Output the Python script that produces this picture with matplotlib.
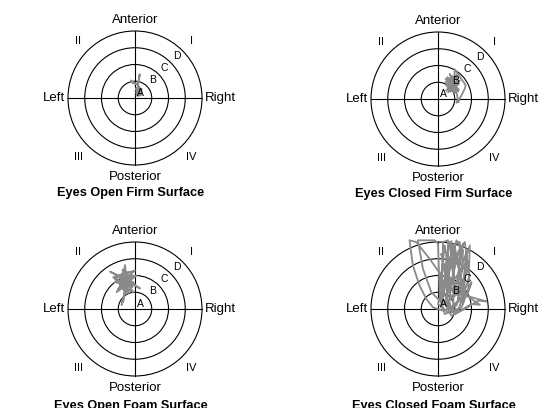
import matplotlib.pyplot as plt
from matplotlib.patches import Circle

plt.rcParams['font.family'] = ['Liberation Sans', 'DejaVu Sans']

# panel titles and centres (pixels from top-left of the 560x408 image)
titles = ['Eyes Open Firm Surface', 'Eyes Closed Firm Surface',
          'Eyes Open Foam Surface', 'Eyes Closed Foam Surface']
centres = [(135, 98), (438, 99), (135, 309), (438, 309)]
ring_radii = [1, 2, 3, 4]
ring_labels = ['A', 'B', 'C', 'D']
quadrants = ['I', 'II', 'III', 'IV']

# sway traces, in ring units (x = right, y = anterior)
eo_firm_x = [0.10, 0.30, 0.15, 0.35, 0.08, 0.38, 0.12, 0.32, 0.06, 0.36, 0.20, 0.40,
             0.10, 0.28, 0.05, 0.33, 0.22, 0.18, 0.25, 0.28, 0.24, 0.20, 0.05, -0.15,
             -0.25, -0.10, 0.10, 0.22, 0.18, 0.30, 0.12, 0.38, 0.08, 0.35, 0.15, 0.30,
             0.10, 0.25]
eo_firm_y = [0.15, 0.55, 0.20, 0.45, 0.30, 0.25, 0.60, 0.18, 0.50, 0.35, 0.12, 0.50,
             0.40, 0.22, 0.58, 0.30, 0.62, 0.85, 1.20, 1.42, 1.10, 0.88, 0.84, 0.90,
             1.05, 0.95, 0.82, 0.70, 0.50, 0.40, 0.28, 0.55, 0.35, 0.15, 0.45, 0.60,
             0.25, 0.40]

ec_firm_x = [0.50, 1.10, 0.60, 1.25, 0.45, 1.20, 0.70, 1.00, 0.50, 1.30, 0.80, 0.45,
             1.15, 0.65, 1.25, 0.55, 0.95, 1.00, 1.51, 1.65, 1.61, 1.31, 1.21, 1.10,
             1.15, 1.22, 1.12, 0.90, 0.60, 1.20, 0.75, 0.50, 1.05, 0.85]
ec_firm_y = [0.50, 1.40, 0.40, 0.90, 1.20, 0.45, 1.50, 0.35, 0.80, 1.10, 0.60, 1.00,
             1.45, 0.70, 0.55, 1.30, 0.90, 1.77, 1.03, 0.84, 0.64, 0.04, -0.16, -0.22,
             -0.10, -0.20, 0.34, 0.80, 1.10, 1.25, 0.45, 0.95, 0.65, 1.35]

eo_foam_x = [-0.70, -0.50, -0.80, -0.60, -0.20, -1.00, 0.10, -1.30, -0.40, -0.60,
             -0.80, -0.10, -1.49, -0.70, 0.30, -1.00, -0.30, -0.90, 0.00, -1.19,
             -0.50, -0.20, -1.10, -0.40, -0.80, -0.10, -0.90, -0.30, -1.20, 0.05,
             -0.60, -0.95, -0.45, -0.75, -0.15, -1.05, -0.55, -0.25, -0.85]
eo_foam_y = [0.44, 1.50, 0.24, 1.00, 2.10, 1.20, 2.00, 1.90, 0.95, 2.63,
             1.30, 1.60, 2.23, 1.80, 1.23, 2.00, 1.10, 1.60, 2.30, 1.93,
             1.20, 1.90, 1.00, 2.20, 2.10, 1.00, 1.40, 1.70, 1.60, 1.40,
             2.00, 1.10, 1.55, 2.35, 1.30, 1.75, 0.90, 2.00, 1.50]

ec_foam_x = [0.2, 0.3, 0.6, 0.5, 0.9, 1.0, 1.3, 1.2, 0.7, 0.6, 0.8, 1.0, 1.5, 1.7,
             1.9, 1.8, 2.0, 1.4, 0.4, 0.1, 0.0, -0.2, -1.2, -0.9, -0.4, 0.2, 0.9,
             1.1, 1.5, 1.3, 2.9, 2.4, 1.6, 0.8, 0.3, 0.5, 0.7, 0.9, 1.2, 1.6, 1.8,
             1.1, 0.3, -0.3, -0.7, -1.1, -1.5, -1.7, -1.3, -0.5, 0.2, 0.4, 0.6, 1.0,
             1.4, 1.7, 2.5, 2.0, 1.0, 0.5, 0.8, 1.2, 1.5, 1.1, 0.4, 0.2, 0.6, 1.3,
             1.7, 1.4, 0.8, 0.1, 0.3, 0.9, 1.6, 1.9, 1.2, 0.6, 0.0, 0.4, 1.0, 0.7,
             1.5, 0.9, 0.5, 1.3, 0.2]
ec_foam_y = [0.1, 4.0, 4.1, 0.3, -0.2, 3.9, 4.0, 0.5, 0.0, 3.6, 4.05, 1.2, 0.3, 3.2,
             3.8, 1.0, 1.6, 0.1, -0.3, 0.8, 3.9, 4.1, 4.1, 2.4, 1.0, 0.4, 3.3,
             4.1, 3.5, 0.9, 0.45, 0.5, 0.0, -0.4, 0.6, 3.0, 4.0, 2.0, 3.4, 4.0, 2.5,
             0.2, -0.1, 0.1, 0.6, 1.4, 2.6, 4.1, 4.0, 3.0, 2.0, 3.8, 2.5, 3.7,
             1.8, 0.8, 0.25, 0.3, -0.3, 0.4, 3.5, 2.6, 3.9, 1.5, 2.2, 3.3, 1.3, 2.2,
             3.4, 0.6, 0.1, 1.4, 2.8, 1.0, 2.7, 2.0, -0.1, -0.2, 0.3, 1.8, 2.9, 0.7,
             1.3, 3.8, 2.0, 1.0, 0.2]

traces = [(eo_firm_x, eo_firm_y), (ec_firm_x, ec_firm_y),
          (eo_foam_x, eo_foam_y), (ec_foam_x, ec_foam_y)]

W, H = 560, 408
px = 16.75  # pixels per ring unit

fig = plt.figure(figsize=(W / 100, H / 100), dpi=100)

for k, ((cx, cy), title, (tx, ty)) in enumerate(zip(centres, titles, traces)):
    hw, hh = 140, 120
    ax = fig.add_axes([(cx - hw) / W, (H - cy - hh) / H, 2 * hw / W, 2 * hh / H])
    ax.set_xlim(-hw / px, hw / px)
    ax.set_ylim(-hh / px, hh / px)
    ax.axis('off')

    for r in ring_radii:
        ax.add_patch(Circle((0, 0), r, fill=False, lw=0.8, ec='black'))
    ax.plot([-4, 4], [0, 0], color='black', lw=0.8)
    ax.plot([0, 0], [-4, 4], color='black', lw=0.8)

    ax.plot(tx, ty, color='#8a8a8a', lw=1.3, solid_joinstyle='round', zorder=3)

    for i, lab in enumerate(ring_labels):
        d = 0.32 if i == 0 else (i + 0.5) * 0.71
        ax.text(d, d, lab, fontsize=7.5, ha='center', va='center', zorder=4)

    fs = 9.5
    ax.text(0, 4.66, 'Anterior', fontsize=fs, ha='center', va='center')
    ax.text(0, -4.7, 'Posterior', fontsize=fs, ha='center', va='center')
    ax.text(-4.16, 0, 'Left', fontsize=fs, ha='right', va='center')
    ax.text(4.18, 0, 'Right', fontsize=fs, ha='left', va='center')
    ax.text(3.38, 3.42, quadrants[0], fontsize=8, ha='center', va='center')
    ax.text(-3.4, 3.42, quadrants[1], fontsize=8, ha='center', va='center')
    ax.text(-3.4, -3.5, quadrants[2], fontsize=8, ha='center', va='center')
    ax.text(3.38, -3.5, quadrants[3], fontsize=8, ha='center', va='center')
    ty_title = -5.67 if k < 2 else -5.8
    ax.text(-0.25, ty_title, title, fontsize=9.2, fontweight='bold',
            ha='center', va='center')

fig.savefig('out.png', dpi=100)
